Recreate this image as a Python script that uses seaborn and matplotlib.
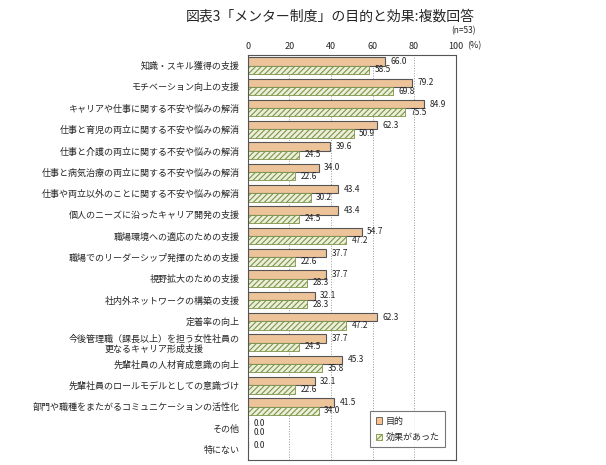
import pandas as pd
import matplotlib.pyplot as plt
import seaborn as sns
from matplotlib.patches import Patch

# データ
categories = [
    '知識・スキル獲得の支援',
    'モチベーション向上の支援',
    'キャリアや仕事に関する不安や悩みの解消',
    '仕事と育児の両立に関する不安や悩みの解消',
    '仕事と介護の両立に関する不安や悩みの解消',
    '仕事と病気治療の両立に関する不安や悩みの解消',
    '仕事や両立以外のことに関する不安や悩みの解消',
    '個人のニーズに沿ったキャリア開発の支援',
    '職場環境への適応のための支援',
    '職場でのリーダーシップ発揮のための支援',
    '視野拡大のための支援',
    '社内外ネットワークの構築の支援',
    '定着率の向上',
    '今後管理職（課長以上）を担う女性社員の\n更なるキャリア形成支援',
    '先輩社員の人材育成意識の向上',
    '先輩社員のロールモデルとしての意識づけ',
    '部門や職種をまたがるコミュニケーションの活性化',
    'その他',
    '特にない',
]
purpose = [66.0, 79.2, 84.9, 62.3, 39.6, 34.0, 43.4, 43.4, 54.7, 37.7,
           37.7, 32.1, 62.3, 37.7, 45.3, 32.1, 41.5, 0.0, 0.0]
effect = [58.5, 69.8, 75.5, 50.9, 24.5, 22.6, 30.2, 24.5, 47.2, 22.6,
          28.3, 28.3, 47.2, 24.5, 35.8, 22.6, 34.0, 0.0, None]
series_names = ['目的', '効果があった']
colors = ['#fbc38c', '#eef3d6']

rows = []
for c, p, e in zip(categories, purpose, effect):
    rows.append({'項目': c, '系列': series_names[0], '値': p})
    if e is not None:
        rows.append({'項目': c, '系列': series_names[1], '値': e})
df = pd.DataFrame(rows)

sns.set_style('white')
plt.rcParams['font.family'] = ['Noto Sans CJK JP', 'DejaVu Sans']
plt.rcParams['hatch.linewidth'] = 0.8

fig = plt.figure(figsize=(6.06, 4.65), dpi=100)
ax = fig.add_axes([0.409, 0.011, 0.343, 0.871])

sns.barplot(data=df, y='項目', x='値', hue='系列', order=categories,
            hue_order=series_names, orient='h', width=0.78,
            palette=colors, ax=ax, legend=False)

for bar in ax.containers[0]:
    bar.set_edgecolor('#555555')
    bar.set_linewidth(0.8)
for bar in ax.containers[1]:
    bar.set_edgecolor('#7d9448')
    bar.set_hatch('//////')
    bar.set_linewidth(0.6)

for cont in ax.containers:
    ax.bar_label(cont, fmt='%.1f', padding=4, fontsize=6, color='#222222')

ax.set_xlim(0, 100)
ax.set_xticks([0, 20, 40, 60, 80, 100])
ax.xaxis.tick_top()
ax.tick_params(axis='x', labelsize=6.5, length=0, pad=3)
ax.tick_params(axis='y', labelsize=6.5, length=0, pad=6)
ax.set_xlabel('')
ax.set_ylabel('')
for lab in ax.get_yticklabels():
    lab.set_multialignment('center')
ax.grid(axis='x', linestyle=':', color='#999999', linewidth=0.7)
ax.set_axisbelow(True)
for s in ax.spines.values():
    s.set_color('#555555')
    s.set_linewidth(0.8)

handles = [
    Patch(facecolor=colors[0], edgecolor='#555555', linewidth=0.6, label=series_names[0]),
    Patch(facecolor=colors[1], edgecolor='#7d9448', hatch='//////', linewidth=0.6,
          label=series_names[1]),
]
leg = ax.legend(handles=handles, loc='lower right', bbox_to_anchor=(0.97, 0.02),
                fontsize=6.5, frameon=True, fancybox=False, edgecolor='#555555',
                handlelength=0.7, handleheight=0.7, handletextpad=0.4,
                borderpad=0.6, labelspacing=0.8)
leg.get_frame().set_linewidth(0.8)

fig.text(0.545, 0.965, '図表3「メンター制度」の目的と効果:複数回答', ha='center',
         va='center', fontsize=10)
fig.text(0.765, 0.933, '(n=53)', ha='center', va='center', fontsize=6)
ax.annotate('(%)', xy=(1, 1), xycoords='axes fraction', xytext=(8, 3),
            textcoords='offset points', ha='left', va='bottom', fontsize=6.5)

fig.savefig('out.png', dpi=100)
